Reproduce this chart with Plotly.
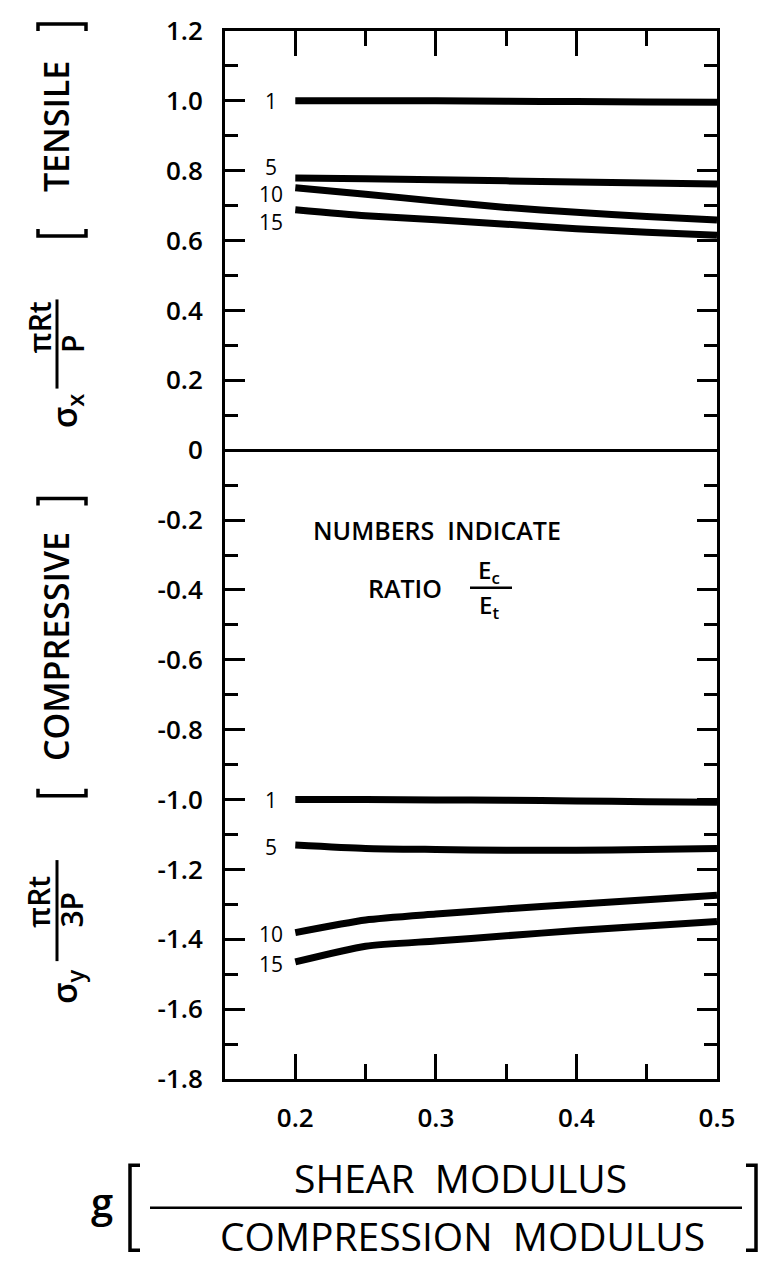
import plotly.graph_objects as go

# ---------------- data ----------------
g_ratio = [0.20, 0.25, 0.30, 0.35, 0.40, 0.45, 0.50]

tensile_1 = [1.000, 1.000, 1.000, 0.999, 0.998, 0.997, 0.996]
tensile_5 = [0.779, 0.777, 0.774, 0.771, 0.768, 0.765, 0.762]
tensile_10 = [0.751, 0.733, 0.713, 0.695, 0.681, 0.669, 0.659]
tensile_15 = [0.688, 0.671, 0.660, 0.647, 0.634, 0.624, 0.615]

compressive_1 = [-1.000, -1.000, -1.001, -1.002, -1.004, -1.006, -1.008]
compressive_5 = [-1.130, -1.140, -1.143, -1.145, -1.145, -1.143, -1.140]
compressive_10 = [-1.381, -1.345, -1.328, -1.313, -1.300, -1.287, -1.274]
compressive_15 = [-1.465, -1.420, -1.405, -1.390, -1.375, -1.362, -1.349]

ratio_labels = ["1", "5", "10", "15"]
tensile_label_y = [1.0, 0.812, 0.734, 0.652]
compressive_label_y = [-1.0, -1.135, -1.386, -1.472]
label_g = 0.183

x_tickvals = [0.2, 0.3, 0.4, 0.5]
x_ticktext = ["0.2", "0.3", "0.4", "0.5"]
x_minor = [0.25, 0.35, 0.45]
y_tickvals = [1.2, 1.0, 0.8, 0.6, 0.4, 0.2, 0.0, -0.2, -0.4, -0.6, -0.8,
              -1.0, -1.2, -1.4, -1.6, -1.8]
y_ticktext = ["1.2", "1.0", "0.8", "0.6", "0.4", "0.2", "0", "-0.2", "-0.4",
              "-0.6", "-0.8", "-1.0", "-1.2", "-1.4", "-1.6", "-1.8"]
y_minor = [1.1, 0.9, 0.7, 0.5, 0.3, 0.1, -0.1, -0.3, -0.5, -0.7, -0.9,
           -1.1, -1.3, -1.5, -1.7]

# ---------------- layout helpers ----------------
W, H = 765, 1262
L, R, T, B = 225, 48, 21, 183
PW, PH = W - L - R, H - T - B
FONT = "Open Sans"


def px(x):
    return (x - L) / PW


def py(y):
    return (H - B - y) / PH


fig = go.Figure()

for series in [tensile_1, tensile_5, tensile_10, tensile_15,
               compressive_1, compressive_5, compressive_10, compressive_15]:
    fig.add_trace(go.Scatter(
        x=g_ratio, y=series, mode="lines",
        line=dict(color="black", width=7, shape="spline", smoothing=0.6),
        showlegend=False, hoverinfo="skip"))

annotations = []
for lab, yy in zip(ratio_labels, tensile_label_y):
    annotations.append(dict(x=label_g, y=yy, xref="x", yref="y", text=lab,
                            showarrow=False, xanchor="center", yanchor="middle",
                            font=dict(family=FONT, size=21, color="black")))
for lab, yy in zip(ratio_labels, compressive_label_y):
    annotations.append(dict(x=label_g, y=yy, xref="x", yref="y", text=lab,
                            showarrow=False, xanchor="center", yanchor="middle",
                            font=dict(family=FONT, size=21, color="black")))


def txt(x, y, text, size, angle=0, weight="normal"):
    annotations.append(dict(x=px(x), y=py(y), xref="paper", yref="paper",
                            text=text, showarrow=False, textangle=angle,
                            xanchor="center", yanchor="middle",
                            font=dict(family=FONT, size=size, color="black",
                                      weight=weight)))


shapes = []


def seg(x0, y0, x1, y1, w=3):
    shapes.append(dict(type="line", xref="paper", yref="paper",
                       x0=px(x0), y0=py(y0), x1=px(x1), y1=py(y1),
                       line=dict(color="black", width=w)))


def path(points, w=3.5):
    d = "M " + " L ".join(f"{px(a)},{py(b)}" for a, b in points)
    shapes.append(dict(type="path", xref="paper", yref="paper", path=d,
                       line=dict(color="black", width=w)))


# in-plot note
txt(437, 525, "NUMBERS  INDICATE", 25, weight=600)
txt(405, 583, "RATIO", 25, weight=600)
txt(489, 566, "E<sub>c</sub>", 24, weight=600)
seg(470, 583, 512, 583, 2.5)
txt(489, 601, "E<sub>t</sub>", 24, weight=600)

# y title: tensile
path([(38, 21), (38, 14), (86, 14), (86, 21)])
txt(56, 118, "TENSILE", 34, angle=-90, weight=600)
path([(38, 221), (38, 228), (86, 228), (86, 221)])
txt(39, 320, "πRt", 30, angle=-90, weight=600)
seg(57, 292, 57, 382, 3)
txt(72, 337, "P", 30, angle=-90, weight=600)
txt(66, 405, "σ<sub>x</sub>", 34, angle=-90, weight=600)

# y title: compressive
path([(38, 500), (38, 493), (86, 493), (86, 500)])
txt(56, 643, "COMPRESSIVE", 34, angle=-90, weight=600)
path([(38, 786), (38, 793), (86, 793), (86, 786)])
txt(39, 900, "πRt", 30, angle=-90, weight=600)
seg(57, 858, 57, 960, 3)
txt(72, 908, "3P", 30, angle=-90, weight=600)
txt(66, 986, "σ<sub>y</sub>", 34, angle=-90, weight=600)

# x title
txt(102, 1203, "g", 40, weight=600)
path([(140, 1166), (130, 1166), (130, 1252), (140, 1252)])
txt(460, 1178, "SHEAR  MODULUS", 39)
seg(150, 1209, 742, 1209, 2.5)
txt(462, 1237, "COMPRESSION  MODULUS", 39)
path([(746, 1166), (756, 1166), (756, 1252), (746, 1252)])

fig.update_layout(
    width=W, height=H, autosize=False,
    margin=dict(l=L, r=R, t=T, b=B, pad=0),
    paper_bgcolor="white", plot_bgcolor="white",
    annotations=annotations, shapes=shapes,
    font=dict(family=FONT, color="black"),
)

fig.update_xaxes(
    range=[0.15, 0.5], tickvals=x_tickvals, ticktext=x_ticktext,
    ticks="inside", ticklen=25, tickwidth=3, tickcolor="black",
    mirror="ticks", showline=True, linewidth=3, linecolor="black",
    showgrid=False, zeroline=False,
    tickfont=dict(family=FONT, size=26, color="black", weight=600),
    ticklabelstandoff=14,
    minor=dict(tickvals=x_minor, ticks="inside", ticklen=15, tickwidth=3,
               tickcolor="black", showgrid=False),
)
fig.update_yaxes(
    range=[-1.8, 1.2], tickvals=y_tickvals, ticktext=y_ticktext,
    ticks="inside", ticklen=20, tickwidth=3, tickcolor="black",
    mirror="ticks", showline=True, linewidth=3, linecolor="black",
    showgrid=False, zeroline=True, zerolinewidth=3, zerolinecolor="black",
    tickfont=dict(family=FONT, size=26, color="black", weight=600),
    ticklabelstandoff=14,
    minor=dict(tickvals=y_minor, ticks="inside", ticklen=13, tickwidth=3,
               tickcolor="black", showgrid=False),
)

fig.write_html("out.html")
